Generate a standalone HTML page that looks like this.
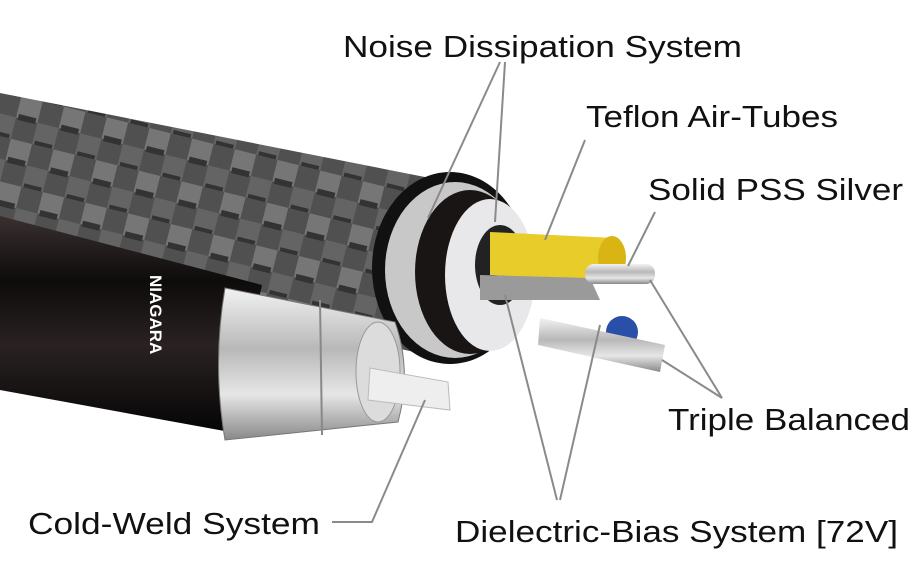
<!DOCTYPE html>
<html><head><meta charset="utf-8"><style>
html,body{margin:0;padding:0;background:#fff;width:920px;height:561px;overflow:hidden}
text{font-family:"Liberation Sans",sans-serif;fill:#111}
</style></head><body>
<svg width="920" height="561" viewBox="0 0 920 561" xmlns="http://www.w3.org/2000/svg">
<defs>
<pattern id="braid" width="44" height="44" patternUnits="userSpaceOnUse" patternTransform="rotate(14)">
<rect width="44" height="44" fill="#505050"/>
<rect x="0" y="0" width="22" height="22" fill="#767676"/>
<rect x="22" y="22" width="22" height="22" fill="#646464"/>
<rect x="2" y="18" width="18" height="6" fill="#333"/>
<rect x="24" y="40" width="18" height="4" fill="#333"/>
</pattern>
<linearGradient id="blk" x1="0" y1="0" x2="0" y2="1">
<stop offset="0" stop-color="#3a3030"/><stop offset="0.3" stop-color="#0e0b0b"/><stop offset="0.6" stop-color="#2a2222"/><stop offset="1" stop-color="#050505"/>
</linearGradient>
<linearGradient id="silv" x1="0" y1="0" x2="0" y2="1">
<stop offset="0" stop-color="#f2f2f2"/><stop offset="0.4" stop-color="#b8b8b8"/><stop offset="0.7" stop-color="#e6e6e6"/><stop offset="1" stop-color="#888"/>
</linearGradient>
</defs>
<path d="M0 93 L430 178 L450 360 L0 260 Z" fill="url(#braid)"/>
<ellipse cx="450" cy="268" rx="78" ry="96" fill="#111"/>
<ellipse cx="455" cy="270" rx="70" ry="88" fill="#c8c8c8"/>
<ellipse cx="470" cy="272" rx="55" ry="82" fill="#1a1515"/>
<ellipse cx="490" cy="275" rx="45" ry="76" fill="#e8e8ea"/>
<ellipse cx="500" cy="265" rx="25" ry="40" fill="#222"/>
<path d="M490 232 L615 238 Q630 258 615 282 L490 275 Z" fill="#e8cc2a"/>
<ellipse cx="612" cy="258" rx="14" ry="22" fill="#d9b514"/>
<path d="M480 275 L590 278 L600 300 L480 300 Z" fill="#9a9a9a"/>
<rect x="585" y="264" width="70" height="20" rx="9" fill="url(#silv)"/>
<circle cx="622" cy="332" r="16" fill="#2a4fa8"/>
<path d="M540 318 L665 345 L660 372 L538 345 Z" fill="url(#silv)"/>
<path d="M0 216 L262 285 L230 432 L0 390 Z" fill="url(#blk)"/>
<text transform="translate(150,275) rotate(90)" font-size="17" font-weight="bold" style="fill:#fff">NIAGARA</text>
<path d="M225 288 L395 322 Q412 370 398 422 L225 440 Q212 365 225 288 Z" fill="url(#silv)" stroke="#777" stroke-width="1"/>
<path d="M320 300 L322 435" stroke="#888" stroke-width="2"/>
<ellipse cx="378" cy="372" rx="22" ry="50" fill="#dcdcdc" stroke="#999"/>
<path d="M370 368 L448 382 L450 410 L368 400 Z" fill="#eeeeee" stroke="#bbb"/>
<g stroke="#8a8a8a" stroke-width="2" fill="none">
<path d="M500 62 L428 218"/><path d="M505 62 L495 222"/>
<path d="M585 140 L545 240"/>
<path d="M655 212 L628 266"/>
<path d="M722 398 L650 280"/><path d="M722 398 L662 360"/>
<path d="M557 500 L505 295"/><path d="M560 500 L600 325"/>
<path d="M332 522 L372 522 L425 400"/>
</g>
<g font-size="31">
<text x="343" y="57" textLength="399" lengthAdjust="spacingAndGlyphs">Noise Dissipation System</text>
<text x="586" y="127" textLength="252" lengthAdjust="spacingAndGlyphs">Teflon Air-Tubes</text>
<text x="648" y="200" textLength="255" lengthAdjust="spacingAndGlyphs">Solid PSS Silver</text>
<text x="668" y="430" textLength="242" lengthAdjust="spacingAndGlyphs">Triple Balanced</text>
<text x="455" y="542" textLength="443" lengthAdjust="spacingAndGlyphs">Dielectric-Bias System [72V]</text>
<text x="28" y="534" textLength="292" lengthAdjust="spacingAndGlyphs">Cold-Weld System</text>
</g>
</svg>
</body></html>
